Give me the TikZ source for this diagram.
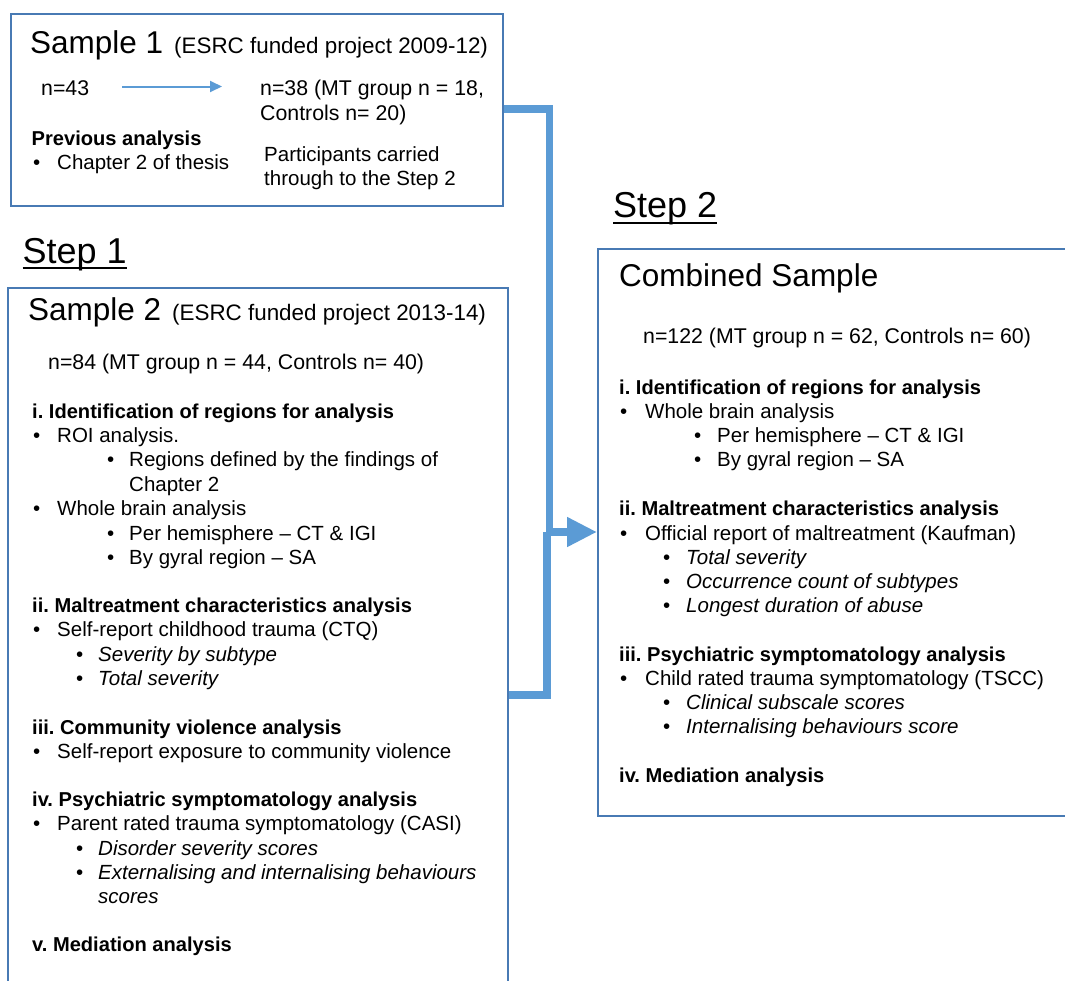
\documentclass[tikz,border=0pt]{standalone}
\usepackage{fontspec}
\setmainfont{Liberation Sans}
\usetikzlibrary{arrows.meta}
\definecolor{boxblue}{RGB}{72,122,180}
\definecolor{connblue}{RGB}{91,155,213}
\tikzset{
  txt/.style={anchor=base west, inner sep=0pt, font=\fontsize{20.5}{24.5}\selectfont\frenchspacing},
  ntxt/.style={anchor=base west, inner sep=0pt, font=\fontsize{21.3}{24.5}\selectfont\frenchspacing},
  hd/.style={anchor=base west, inner sep=0pt, font=\fontsize{20.1}{24.5}\selectfont\bfseries\frenchspacing},
  itx/.style={anchor=base west, inner sep=0pt, font=\fontsize{20.5}{24.5}\selectfont\itshape\frenchspacing},
  big/.style={anchor=base west, inner sep=0pt, font=\fontsize{31.5}{36}\selectfont},
  subt/.style={anchor=base west, inner sep=0pt, font=\fontsize{22.4}{26}\selectfont},
  steptitle/.style={anchor=base west, inner sep=0pt, font=\fontsize{36}{40}\selectfont},
  panel/.style={draw=boxblue, line width=2pt, rectangle, anchor=north west, inner sep=0pt},
  conn/.style={draw=connblue, line width=7.5pt, line join=miter},
  thinarr/.style={draw=connblue, line width=2pt, -{Triangle[length=12pt,width=11pt]}},
}
\begin{document}
\begin{tikzpicture}[x=1pt,y=-1pt]
\clip (0,0) rectangle (1065,980);
\fill[white] (0,0) rectangle (1065,980);

% ---------- panels ----------
\node[panel, minimum width=492pt, minimum height=192pt] (box1) at (10,13) {};
\node[panel, minimum width=500pt, minimum height=730pt] (box2) at (7,287) {};
\node[panel, minimum width=500pt, minimum height=567pt] (box3) at (597,248) {};

% ---------- step titles ----------
\node[steptitle] (step1) at (22.5,263) {Step 1};
\draw[line width=2pt] ([yshift=-5pt]step1.base west) -- ([yshift=-5pt]step1.base east);
\node[steptitle] (step2) at (613,217.5) {Step 2};
\draw[line width=2pt] ([yshift=-5pt]step2.base west) -- ([yshift=-5pt]step2.base east);

% ---------- Sample 1 ----------
\node[big] (s1) at (30,53) {Sample 1};
\node[subt] (s1b) at (174,53) {(ESRC funded project 2009-12)};
\node[ntxt] (n43) at (41,95) {n=43};
\coordinate (a1) at (122,86.5);
\coordinate (a2) at (222,86.5);
\draw[thinarr] (a1) -- (a2);
\node[ntxt] (n38a) at (260,95) {n=38 (MT group n = 18,};
\node[ntxt] (n38b) at (260,120) {Controls n= 20)};
\node[hd] (prev) at (31.5,145) {Previous analysis};
\node[txt] (b1) at (33,169) {•};
\node[txt] (ch2) at (57,169) {Chapter 2 of thesis};
\node[txt] (pc1) at (264,161) {Participants carried};
\node[txt] (pc2) at (264,185.5) {through to the Step 2};

% ---------- Sample 2 ----------
\node[big] (s2) at (28,320.5) {Sample 2};
\node[subt] (s2b) at (172,320.5) {(ESRC funded project 2013-14)};
\node[ntxt] (n84) at (48,369.5) {n=84 (MT group n = 44, Controls n= 40)};

\node[hd] (l1) at (32,418) {i. Identification of regions for analysis};
\node[txt] (l2b) at (33,442.5) {•};
\node[txt] (l2) at (57,442.5) {ROI analysis.};
\node[txt] (l3b) at (107,466.5) {•};
\node[txt] (l3) at (129,466.5) {Regions defined by the findings of};
\node[txt] (l4) at (129,491) {Chapter 2};
\node[txt] (l5b) at (33,515.5) {•};
\node[txt] (l5) at (57,515.5) {Whole brain analysis};
\node[txt] (l6b) at (107,540) {•};
\node[txt] (l6) at (129,540) {Per hemisphere \textendash{} CT \& IGI};
\node[txt] (l7b) at (107,564) {•};
\node[txt] (l7) at (129,564) {By gyral region \textendash{} SA};

\node[hd] (m1) at (32,612.5) {ii. Maltreatment characteristics analysis};
\node[txt] (m2b) at (33,636.5) {•};
\node[txt] (m2) at (57,636.5) {Self-report childhood trauma (CTQ)};
\node[txt] (m3b) at (76,661) {•};
\node[itx] (m3) at (98,661) {Severity by subtype};
\node[txt] (m4b) at (76,685) {•};
\node[itx] (m4) at (98,685) {Total severity};

\node[hd] (c1) at (32,734) {iii. Community violence analysis};
\node[txt] (c2b) at (33,758) {•};
\node[txt] (c2) at (57,758) {Self-report exposure to community violence};

\node[hd] (p1) at (32,806.5) {iv. Psychiatric symptomatology analysis};
\node[txt] (p2b) at (33,830.5) {•};
\node[txt] (p2) at (57,830.5) {Parent rated trauma symptomatology (CASI)};
\node[txt] (p3b) at (76,855) {•};
\node[itx] (p3) at (98,855) {Disorder severity scores};
\node[txt] (p4b) at (76,879) {•};
\node[itx] (p4) at (98,879) {Externalising and internalising behaviours};
\node[itx] (p5) at (98,903) {scores};

\node[hd] (v1) at (32,951.5) {v. Mediation analysis};

% ---------- Combined sample ----------
\node[big] (cs) at (619,286) {Combined Sample};
\node[ntxt] (n122) at (643,343.5) {n=122 (MT group n = 62, Controls n= 60)};

\node[hd] (r1) at (619,394.5) {i. Identification of regions for analysis};
\node[txt] (r2b) at (620,418) {•};
\node[txt] (r2) at (645,418) {Whole brain analysis};
\node[txt] (r3b) at (694,442.5) {•};
\node[txt] (r3) at (717,442.5) {Per hemisphere \textendash{} CT \& IGI};
\node[txt] (r4b) at (694,466.5) {•};
\node[txt] (r4) at (717,466.5) {By gyral region \textendash{} SA};

\node[hd] (r5) at (619,515.5) {ii. Maltreatment characteristics analysis};
\node[txt] (r6b) at (620,540) {•};
\node[txt] (r6) at (645,540) {Official report of maltreatment (Kaufman)};
\node[txt] (r7b) at (663,564) {•};
\node[itx] (r7) at (686,564) {Total severity};
\node[txt] (r8b) at (663,588) {•};
\node[itx] (r8) at (686,588) {Occurrence count of subtypes};
\node[txt] (r9b) at (663,612.5) {•};
\node[itx] (r9) at (686,612.5) {Longest duration of abuse};

\node[hd] (r10) at (619,661) {iii. Psychiatric symptomatology analysis};
\node[txt] (r11b) at (620,685) {•};
\node[txt] (r11) at (645,685) {Child rated trauma symptomatology (TSCC)};
\node[txt] (r12b) at (663,709) {•};
\node[itx] (r12) at (686,709) {Clinical subscale scores};
\node[txt] (r13b) at (663,733) {•};
\node[itx] (r13) at (686,733) {Internalising behaviours score};

\node[hd] (r14) at (619,782) {iv. Mediation analysis};

% ---------- connectors ----------
\coordinate (ja) at (549.5,532);
\coordinate (jb) at (547,532);
\coordinate (lowc) at (0,695);
\draw[conn] (box1.east |- 0,109) -| (ja);
\draw[conn] (box2.east |- lowc) -| (jb);
\draw[conn, -{Triangle[length=30pt,width=28pt]}] (ja) -- (box3.west |- ja);
\end{tikzpicture}
\end{document}
